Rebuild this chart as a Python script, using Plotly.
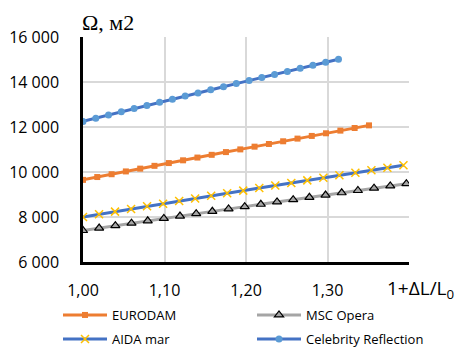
import plotly.graph_objects as go

# Relative length 1 + dL/L0 for each ship and the resulting area, m2
eurodam_x = [1.0000, 1.0175, 1.0351, 1.0526, 1.0702, 1.0877, 1.1053, 1.1228, 1.1404, 1.1579, 1.1754,
             1.1930, 1.2105, 1.2281, 1.2456, 1.2632, 1.2807, 1.2982, 1.3158, 1.3333, 1.3509]
eurodam_y = [9650, 9776, 9901, 10026, 10150, 10274, 10397, 10519, 10642, 10763, 10885,
             11005, 11126, 11246, 11365, 11484, 11603, 11721, 11839, 11956, 12073]

msc_x = [1.0000, 1.0198, 1.0397, 1.0595, 1.0794, 1.0992, 1.1190, 1.1389, 1.1587, 1.1786, 1.1984,
         1.2182, 1.2381, 1.2579, 1.2778, 1.2976, 1.3174, 1.3373, 1.3571, 1.3770, 1.3968]
msc_y = [7400, 7509, 7616, 7724, 7831, 7937, 8043, 8149, 8254, 8358, 8462,
         8566, 8669, 8772, 8874, 8976, 9077, 9178, 9279, 9380, 9479]

aida_x = [1.0000, 1.0197, 1.0393, 1.0590, 1.0786, 1.0983, 1.1180, 1.1376, 1.1573, 1.1769, 1.1966,
          1.2163, 1.2359, 1.2556, 1.2752, 1.2949, 1.3146, 1.3342, 1.3539, 1.3735, 1.3932]
aida_y = [8000, 8120, 8239, 8357, 8475, 8592, 8709, 8826, 8942, 9057, 9172,
          9287, 9401, 9515, 9628, 9741, 9854, 9966, 10078, 10189, 10300]

celeb_x = [1.0000, 1.0157, 1.0313, 1.0470, 1.0627, 1.0784, 1.0940, 1.1097, 1.1254, 1.1411, 1.1567,
           1.1724, 1.1881, 1.2038, 1.2194, 1.2351, 1.2508, 1.2665, 1.2821, 1.2978, 1.3135]
celeb_y = [12250, 12393, 12535, 12677, 12818, 12958, 13098, 13238, 13377, 13515, 13653,
           13791, 13928, 14064, 14201, 14336, 14472, 14607, 14741, 14875, 15009]

x_ticks = [1.0, 1.1, 1.2, 1.3, 1.4]
x_tick_text = ["1,00", "1,10", "1,20", "1,30", ""]
y_ticks = [6000, 8000, 10000, 12000, 14000, 16000]
y_tick_text = ["6 000", "8 000", "10 000", "12 000", "14 000", "16 000"]

W, H = 458, 347
# plot area in pixels: left, right, top, bottom
PL, PR, PT, PB = 83, 409, 37, 262

fig = go.Figure()
fig.add_trace(go.Scatter(
    x=eurodam_x, y=eurodam_y, name="EURODAM", mode="lines+markers", legend="legend",
    line=dict(color="#ED7D31", width=3),
    marker=dict(symbol="square", size=6, color="#ED7D31")))
fig.add_trace(go.Scatter(
    x=msc_x, y=msc_y, name="MSC Opera", mode="lines+markers", legend="legend",
    line=dict(color="#A5A5A5", width=3),
    marker=dict(symbol="triangle-up", size=8, color="#A5A5A5",
                line=dict(color="#000000", width=1.2))))
fig.add_trace(go.Scatter(
    x=aida_x, y=aida_y, name="AIDA mar", mode="lines+markers", legend="legend2",
    line=dict(color="#4472C4", width=3),
    marker=dict(symbol="x-thin", size=8, color="#FFC000",
                line=dict(color="#FFC000", width=1.5))))
fig.add_trace(go.Scatter(
    x=celeb_x, y=celeb_y, name="Celebrity Reflection", mode="lines+markers", legend="legend2",
    line=dict(color="#4472C4", width=3),
    marker=dict(symbol="circle", size=7, color="#5B9BD5")))

# two legend rows, each with two fixed-width columns
legend_style = dict(orientation="h", x=58 / W, xanchor="left", yanchor="middle",
                    entrywidth=135, entrywidthmode="pixels", itemwidth=44,
                    bgcolor="rgba(0,0,0,0)",
                    font=dict(family="Open Sans", size=13, color="#000000"))

fig.update_layout(
    width=W, height=H,
    margin=dict(l=0, r=0, t=0, b=0, autoexpand=False),
    paper_bgcolor="white", plot_bgcolor="white",
    font=dict(family="Open Sans", size=16, color="#000000"),
    showlegend=True,
    legend=dict(y=1 - 315 / H, **legend_style),
    legend2=dict(y=1 - 339 / H, **legend_style),
)
fig.update_xaxes(
    domain=[PL / W, PR / W],
    range=[1.0, 1.4], tickvals=x_ticks, ticktext=x_tick_text,
    showgrid=True, gridcolor="#D9D9D9", gridwidth=1.5,
    showline=True, linecolor="#000000", linewidth=2.5,
    ticks="", ticklabelstandoff=12, zeroline=False, automargin=False)
fig.update_yaxes(
    domain=[1 - PB / H, 1 - PT / H],
    range=[6000, 16000], tickvals=y_ticks, ticktext=y_tick_text,
    showgrid=True, gridcolor="#D9D9D9", gridwidth=1.5,
    showline=True, linecolor="#000000", linewidth=2.5,
    ticks="", ticklabelstandoff=18, zeroline=False, automargin=False)

# Axis captions
fig.add_annotation(x=80 / W, xref="paper", xanchor="left", y=1 - 22 / H, yref="paper",
                   yanchor="middle", text="Ω, м2", showarrow=False,
                   font=dict(family="Liberation Serif", size=22, color="#000000"))
fig.add_annotation(x=385 / W, xref="paper", xanchor="left", y=1 - 289 / H, yref="paper",
                   yanchor="middle", text="1+ΔL/L<sub>0</sub>", showarrow=False,
                   font=dict(family="Open Sans", size=19, color="#000000"))

fig.write_html("out.html")
